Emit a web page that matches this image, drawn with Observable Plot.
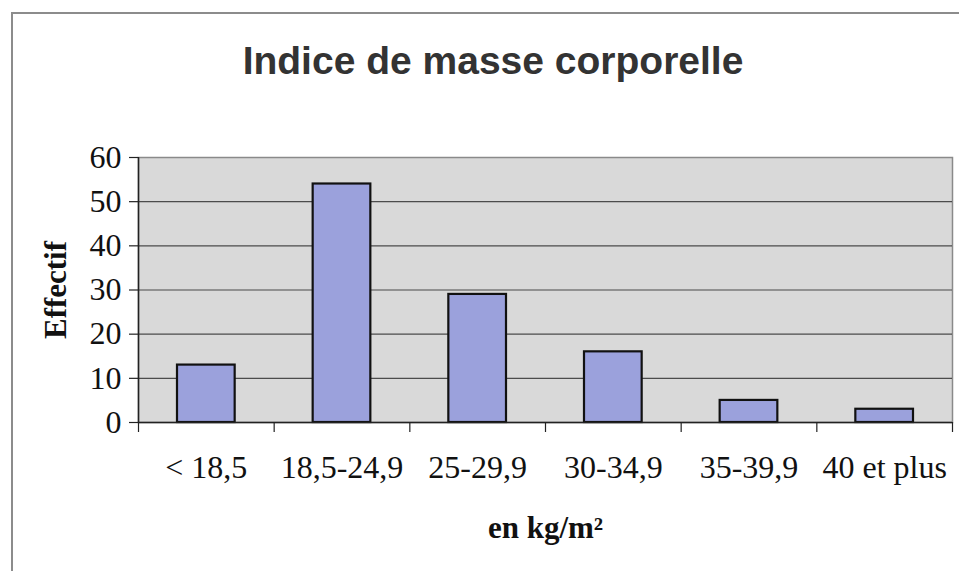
<!DOCTYPE html>
<html>
<head>
<meta charset="utf-8">
<script src="https://cdn.jsdelivr.net/npm/d3@7"></script>
<script src="https://cdn.jsdelivr.net/npm/@observablehq/plot@0.6"></script>
<style>
  html, body { margin: 0; padding: 0; background: #fff; }
  #page { position: relative; width: 959px; height: 571px; overflow: hidden; background: #fff; }
  #border { position: absolute; left: 11px; top: 12px; width: 960px; height: 570px;
            border-left: 2px solid #8c8c8c; border-top: 2px solid #8c8c8c; }
  #title { position: absolute; left: 0; top: 41px; width: 986px; text-align: center;
           font-family: "Liberation Sans", Arial, sans-serif; font-weight: bold;
           font-size: 39px; line-height: 40px; color: #333; }
  #chart { position: absolute; left: 0; top: 0; }
</style>
</head>
<body>
<div id="page">
  <div id="border"></div>
  <div id="title">Indice de masse corporelle</div>
  <div id="chart"></div>
</div>
<script>
const categories = ["< 18,5", "18,5-24,9", "25-29,9", "30-34,9", "35-39,9", "40 et plus"];
const counts = [13, 54, 29, 16, 5, 3];
const yTicks = [0, 10, 20, 30, 40, 50, 60];
const yLabel = "Effectif";
const xLabel = "en kg/m²";

const data = categories.map((c, i) => ({cat: c, idx: i, n: counts[i]}));
const serif = "'Liberation Serif', 'Times New Roman', serif";

const chart = Plot.plot({
  width: 959,
  height: 571,
  marginTop: 157,
  marginBottom: 149,
  marginLeft: 138,
  marginRight: 7,
  style: {fontFamily: serif, fontSize: "32px", color: "#111", background: "transparent"},
  x: {domain: [0, categories.length]},
  y: {domain: [0, 60]},
  marks: [
    Plot.frame({fill: "#d9d9d9", stroke: "#8a8a8a", strokeWidth: 1.5}),
    Plot.gridY(yTicks.filter(t => t > 0 && t < 60), {stroke: "#333", strokeOpacity: 0.85, strokeWidth: 1.2}),
    Plot.rectY(data, {x1: "idx", x2: d => d.idx + 1, y: "n", fill: "#9ba1dc", stroke: "#111", strokeWidth: 2.2, insetLeft: 39, insetRight: 39}),
    Plot.ruleY([0], {stroke: "#222", strokeWidth: 1.5}),
    Plot.ruleX([0], {stroke: "#222", strokeWidth: 1.5}),
    Plot.axisY({ticks: yTicks, tickSize: 9, tickPadding: 8, stroke: "#222", strokeWidth: 1.2, label: null, fontSize: 32, fill: "#111"}),
    Plot.axisX({ticks: d3.range(0, categories.length + 1), tickSize: 10, tickFormat: () => "", stroke: "#222", strokeWidth: 1.2, label: null}),
    Plot.axisX({ticks: categories.map((c, i) => i + 0.5), tickSize: 0, tickPadding: 33, tickFormat: v => categories[Math.floor(v)], label: null, fontSize: 32, fill: "#111"}),
    Plot.text([yLabel], {frameAnchor: "left", textAnchor: "middle", dx: -82, rotate: -90, fontWeight: "bold", fontSize: 31, fill: "#111"}),
    Plot.text([xLabel], {frameAnchor: "bottom", dy: 115, fontWeight: "bold", fontSize: 31, fill: "#111"})
  ]
});
document.getElementById("chart").appendChild(chart);
</script>
</body>
</html>
